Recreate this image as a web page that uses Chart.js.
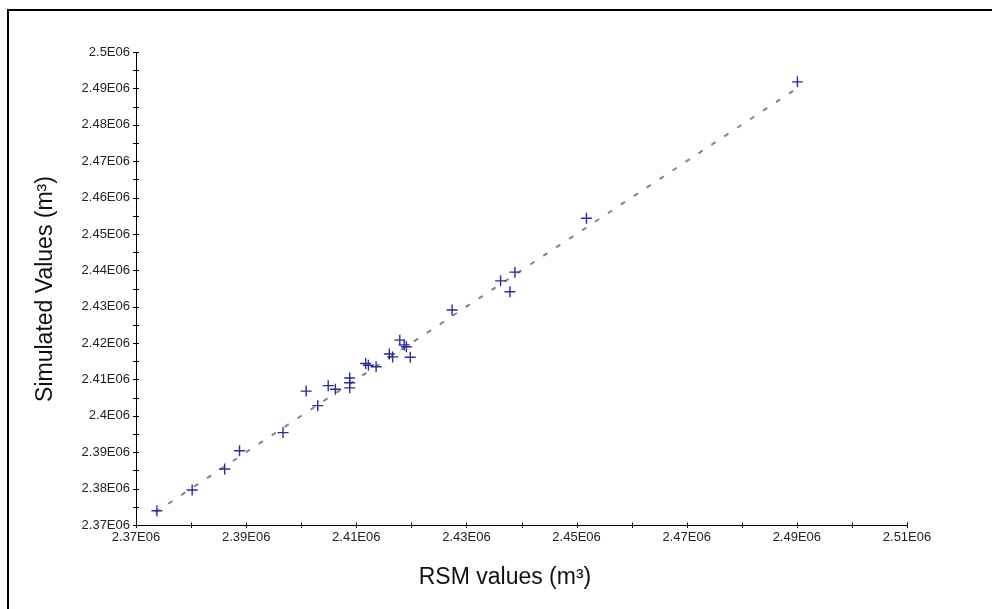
<!DOCTYPE html>
<html>
<head>
<meta charset="utf-8">
<title>RSM vs Simulated</title>
<script src="https://cdn.jsdelivr.net/npm/chart.js@4/dist/chart.umd.min.js"></script>
<style>
    html, body { margin: 0; padding: 0; background: #fff; }
    #wrap { position: relative; width: 992px; height: 609px; overflow: hidden; }
    #frame {
        position: absolute; left: 7px; top: 9px; width: 1000px; height: 620px;
        border-top: 2px solid #000; border-left: 2px solid #000;
    }
    #scatterCanvas { position: absolute; left: 0; top: 0; }
</style>
</head>
<body>
<div id="wrap">
    <div id="frame"></div>
    <canvas id="scatterCanvas" width="992" height="609"></canvas>
</div>
<script>
// --------------------
// Data (m³)
// --------------------
const rsmValues = [
    2373800, 2380200, 2386100, 2388800, 2396700, 2400900, 2403000,
    2404900, 2406200, 2408800, 2408800, 2408800, 2411700, 2412200,
    2413600, 2416000, 2416600, 2417900, 2418700, 2419100, 2419800,
    2427400, 2436200, 2437900, 2438800, 2451800, 2490100
];
const simulatedValues = [
    2373900, 2379600, 2385400, 2390400, 2395400, 2406800, 2402800,
    2408300, 2407300, 2410400, 2409100, 2407700, 2414400, 2413900,
    2413500, 2417000, 2416200, 2420800, 2419500, 2419000, 2416100,
    2429100, 2437100, 2434100, 2439500, 2454300, 2491800
];

// 1:1 reference line
const lineX = [2373500, 2490500];
const lineY = [2373500, 2490500];

// axis ranges
const xMin = 2370000, xMax = 2510000, xStep = 10000, xLabelStep = 20000;
const yMin = 2370000, yMax = 2500000, yStep = 5000, yLabelStep = 10000;

const xTitle = 'RSM values (m³)';
const yTitle = 'Simulated Values (m³)';

// --------------------
// Helpers
// --------------------
function formatE06(v) {
    return parseFloat((v / 1e6).toFixed(3)) + 'E06';
}

const fontFamily = "'Liberation Sans', Arial, Helvetica, sans-serif";

// tick marks that cross the axis lines
const crossTicks = {
    id: 'crossTicks',
    afterDraw(chart) {
        const { ctx, chartArea, scales } = chart;
        ctx.save();
        ctx.strokeStyle = '#000';
        ctx.lineWidth = 1;
        ctx.beginPath();
        scales.x.ticks.forEach(t => {
            const px = Math.round(scales.x.getPixelForValue(t.value)) + 0.5;
            ctx.moveTo(px, chartArea.bottom - 2.5);
            ctx.lineTo(px, chartArea.bottom + 3);
        });
        scales.y.ticks.forEach(t => {
            const py = Math.round(scales.y.getPixelForValue(t.value)) + 0.5;
            ctx.moveTo(chartArea.left - 3, py);
            ctx.lineTo(chartArea.left + 3, py);
        });
        ctx.stroke();
        ctx.restore();
    }
};

// axis titles
const axisTitles = {
    id: 'axisTitles',
    afterDraw(chart) {
        const { ctx } = chart;
        ctx.save();
        ctx.fillStyle = '#111';
        ctx.font = '23px ' + fontFamily;
        ctx.textAlign = 'center';
        ctx.textBaseline = 'middle';
        ctx.fillText(xTitle, 505, 578);
        ctx.translate(46, 289);
        ctx.rotate(-Math.PI / 2);
        ctx.fillText(yTitle, 0, 0);
        ctx.restore();
    }
};

// --------------------
// Chart
// --------------------
const ctx = document.getElementById('scatterCanvas').getContext('2d');

new Chart(ctx, {
    type: 'scatter',
    data: {
        datasets: [
            {
                label: 'Points',
                data: rsmValues.map((x, i) => ({ x: x, y: simulatedValues[i] })),
                pointStyle: 'cross',
                pointRadius: 5.5,
                pointBorderColor: '#2b2ba0',
                pointBorderWidth: 1.4,
                pointBackgroundColor: '#2b2ba0',
                order: 0
            },
            {
                label: '1:1',
                data: lineX.map((x, i) => ({ x: x, y: lineY[i] })),
                showLine: true,
                pointRadius: 0,
                borderColor: '#858585',
                borderWidth: 2,
                borderDash: [5, 10.5],
                order: 1
            }
        ]
    },
    options: {
        responsive: false,
        animation: false,
        layout: { padding: { top: 52, right: 85, left: 0, bottom: 0 } },
        plugins: {
            legend: { display: false },
            tooltip: { enabled: false }
        },
        scales: {
            x: {
                type: 'linear',
                min: xMin,
                max: xMax,
                grid: { display: false, drawTicks: false },
                border: { display: true, color: '#000', width: 1 },
                ticks: {
                    stepSize: xStep,
                    autoSkip: false,
                    maxRotation: 0,
                    padding: 5,
                    color: '#222',
                    font: { family: fontFamily, size: 13 },
                    callback: v => ((v - xMin) % xLabelStep === 0 ? formatE06(v) : '')
                },
                afterFit: scale => { scale.height = 84; }
            },
            y: {
                type: 'linear',
                min: yMin,
                max: yMax,
                grid: { display: false, drawTicks: false },
                border: { display: true, color: '#000', width: 1 },
                ticks: {
                    stepSize: yStep,
                    autoSkip: false,
                    padding: 6,
                    color: '#222',
                    font: { family: fontFamily, size: 13 },
                    callback: v => ((v - yMin) % yLabelStep === 0 ? formatE06(v) : '')
                },
                afterFit: scale => { scale.width = 136; }
            }
        }
    },
    plugins: [crossTicks, axisTitles]
});
</script>
</body>
</html>
